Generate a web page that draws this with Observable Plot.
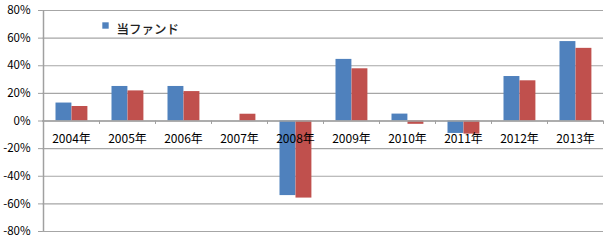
<!DOCTYPE html>
<html>
<head>
<meta charset="utf-8">
<script src="https://cdn.jsdelivr.net/npm/d3@7"></script>
<script src="https://cdn.jsdelivr.net/npm/@observablehq/plot@0.6"></script>
<style>
  html, body { margin: 0; padding: 0; background: #fff; }
  svg { display: block; }
</style>
</head>
<body>
<div id="chart"></div>
<script>
const years = ["2004", "2005", "2006", "2007", "2008", "2009", "2010", "2011", "2012", "2013"];
const fund = [13, 25, 25, 0, -54, 44.6, 5, -9, 32.2, 57.5];
const benchmark = [10.5, 21.8, 21.3, 4.9, -55.8, 37.8, -2.4, -9.5, 29.1, 52.6];
const yTicks = [-80, -60, -40, -20, 0, 20, 40, 60, 80];
const legendLabels = ["当ファンド"];

const BLUE = "#4F81BD";
const RED = "#C0504D";
const FONT = "'Noto Sans CJK JP', 'Noto Sans', sans-serif";

const fundData = years.map((y, i) => ({year: y, value: fund[i] / 100}));
const benchData = years.map((y, i) => ({year: y, value: benchmark[i] / 100}));

const chart = Plot.plot({
  width: 615,
  height: 241,
  marginLeft: 42,
  marginRight: 12,
  marginTop: 10,
  marginBottom: 10,
  style: {fontFamily: FONT, background: "#fff", color: "#000"},
  x: {type: "band", domain: years, padding: 0, axis: null},
  y: {domain: [-0.8, 0.8], axis: null},
  marks: [
    Plot.ruleY(yTicks.map(d => d / 100), {stroke: "#a6a6a6", strokeWidth: 1.2}),
    Plot.barY(fundData, {x: "year", y: "value", fill: BLUE, insetLeft: 12.5, insetRight: 27.6}),
    Plot.barY(benchData, {x: "year", y: "value", fill: RED, insetLeft: 28.5, insetRight: 11.6}),
    Plot.ruleY([0], {stroke: "#a0a0a0", strokeWidth: 1.5}),
    Plot.ruleX(years, {x: d => d, y1: 0, y2: -0.025, dx: -28, stroke: "#a0a0a0"}),
    Plot.ruleX([years[years.length - 1]], {x: d => d, y1: 0, y2: -0.025, dx: 28, stroke: "#a0a0a0"}),
    Plot.text(years, {x: d => d, y: () => 0, dy: 18, text: d => d + "年", fontSize: 12, fill: "#000"}),
    Plot.axisY(yTicks.map(d => d / 100), {
      label: null,
      tickFormat: d => Math.round(d * 100) + "%",
      tickSize: 4, tickPadding: 8, fontSize: 11.5, stroke: "#a0a0a0", fill: "#000"
    }),
    Plot.ruleX([years[0]], {x: d => d, dx: -28, stroke: "#a0a0a0", strokeWidth: 1.5}),
    Plot.dot(legendLabels, {frameAnchor: "top-left", dx: 63, dy: 15, symbol: "square", r: 3.6, fill: BLUE, stroke: null}),
    Plot.text(legendLabels, {frameAnchor: "top-left", dx: 74, dy: 15, text: d => d, textAnchor: "start", fontSize: 12.5, fontWeight: 500, fill: "#222"})
  ]
});
document.getElementById("chart").appendChild(chart);
</script>
</body>
</html>
